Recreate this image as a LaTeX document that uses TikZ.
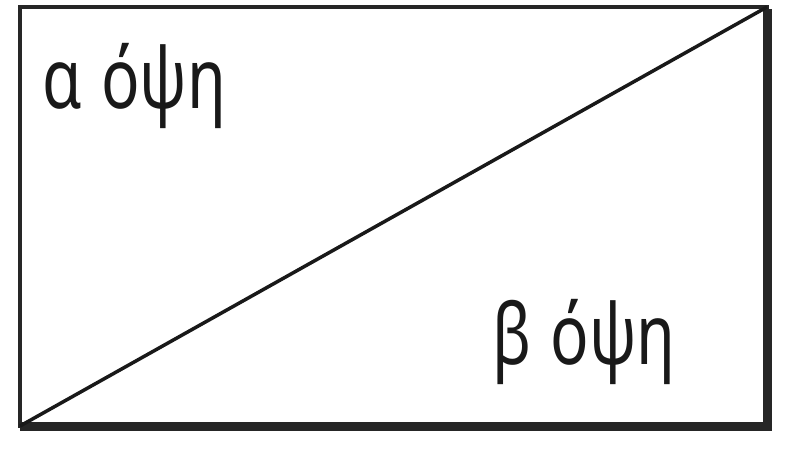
\documentclass[tikz,border=0pt]{standalone}
\usepackage{fontspec}
\setmainfont{Noto Sans}
\begin{document}
\begin{tikzpicture}[x=1pt,y=-1pt,
  frame/.style={draw=black!85,line width=4.5pt},
  heavy/.style={draw=black!85,line width=9pt},
  diag/.style={draw=black!90,line width=3.5pt},
  lbl/.style={font=\fontsize{84}{90}\selectfont,inner sep=0pt,anchor=base west,text=black!90}]
\useasboundingbox (0,0) rectangle (800,467);
\coordinate (tl) at (20,7);
\coordinate (tr) at (767,7);
\coordinate (br) at (767,426);
\coordinate (bl) at (20,426);
\draw[frame] (tl) -- (tr) -- (br) -- (bl) -- cycle;
\draw[heavy] ([yshift=-2pt]tr) -- (br) -- (bl);
\draw[diag] (bl) -- (tr);
\node[lbl] (a) at (42,108) {\scalebox{0.76}[1]{α\hspace{0.3em}όψη}};
\node[lbl] (b) at (492,364) {\scalebox{0.76}[1]{β\hspace{0.3em}όψη}};
\end{tikzpicture}
\end{document}
